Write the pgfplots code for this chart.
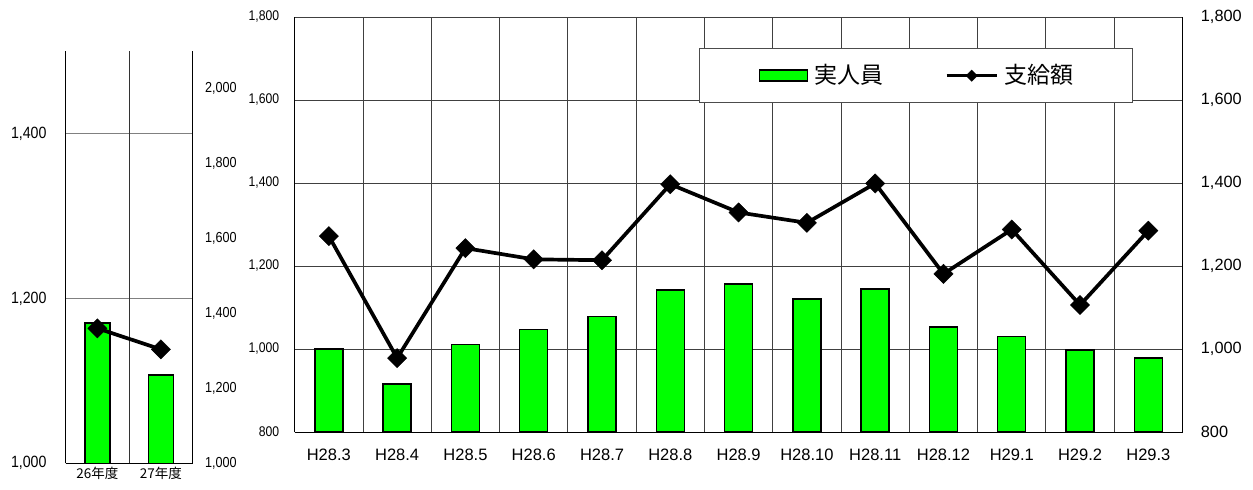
\documentclass[border=0pt]{standalone}
\usepackage{fontspec}
\setmainfont{Liberation Sans}
\newfontfamily\nar{Liberation Sans}[FakeStretch=0.87]
\newfontfamily\cjk{Noto Sans CJK JP}
\usepackage{pgfplots}
\pgfplotsset{compat=1.18}
\definecolor{bargreen}{RGB}{0,255,0}
\pgfplotsset{
  base/.style={
    scale only axis,
    anchor=south west,
    major tick length=0pt,
    /pgf/number format/assume math mode=true,
    /pgf/number format/1000 sep={,},
    every non boxed x axis/.append style={x axis line style=-},
    every non boxed y axis/.append style={y axis line style=-},
    axis line style={black, line width=1bp},
  },
  linestyle/.style={black, line width=3.7bp, mark=square*, mark size=6.8bp,
    mark options={rotate=45, solid, line width=0.4bp, fill=black}},
  barleg/.style={legend image code/.code={\draw[##1] (0bp,-5.5bp) rectangle (48bp,5.5bp);}},
  lineleg/.style={legend image code/.code={\draw[mark repeat=2, mark phase=2, ##1, line width=3.3bp, mark size=4bp]
     plot coordinates {(0bp,0bp) (25bp,0bp) (50bp,0bp)};}},
}
\begin{document}
\begin{tikzpicture}
\useasboundingbox (0bp,0bp) rectangle (1253bp,490bp);
% ---------- small annual chart: bars (left axis) ----------
\begin{axis}[base,
  at={(65.7bp,26.7bp)}, width=127bp, height=412.3bp,
  xmin=-0.5, xmax=1.5, ymin=1000, ymax=1500,
  axis x line=bottom, axis y line=left,
  xtick={0,1}, xticklabels={26年度,27年度},
  xticklabel style={font=\cjk\fontsize{13.5bp}{13.5bp}\selectfont, inner sep=0pt, yshift=-4bp},
  ytick={1000,1200,1400},
  yticklabel style={font=\nar\fontsize{16.3bp}{16.3bp}\selectfont, inner sep=0pt, xshift=-19bp},
  ymajorgrids, major grid style={black!50, line width=0.9bp},
  extra x ticks={0.5}, extra x tick labels={},
  extra x tick style={grid=major, major grid style={black!80, line width=0.9bp}},
  ybar, bar width=25bp,
]
\addplot[fill=bargreen, draw=black, line width=1.4bp] coordinates {(0,1170) (1,1107)};
\end{axis}
% ---------- small annual chart: line (right axis) ----------
\begin{axis}[base,
  at={(65.7bp,26.7bp)}, width=127bp, height=412.3bp,
  xmin=-0.5, xmax=1.5, ymin=1000, ymax=2100,
  axis x line=none, axis y line=right, xtick=\empty,
  ytick={1000,1200,...,2000},
  yticklabel style={font=\nar\fontsize{14.5bp}{14.5bp}\selectfont, inner sep=0pt, xshift=12.3bp},
]
\addplot[linestyle] coordinates {(0,1360) (1,1304)};
\end{axis}
% ---------- main monthly chart: bars (left axis) ----------
\begin{axis}[base,
  at={(294.7bp,58bp)}, width=887.8bp, height=415bp,
  xmin=-0.5, xmax=12.5, ymin=800, ymax=1800,
  axis x line=bottom, axis y line=left,
  xtick={0,...,12},
  xticklabels={H28.3,H28.4,H28.5,H28.6,H28.7,H28.8,H28.9,H28.10,H28.11,H28.12,H29.1,H29.2,H29.3},
  xticklabel style={font=\fontsize{16.5bp}{16.5bp}\selectfont, inner sep=0pt, yshift=-16.3bp},
  ytick={800,1000,...,1800},
  yticklabel style={font=\nar\fontsize{14bp}{14bp}\selectfont, inner sep=0pt, xshift=-15.4bp},
  ymajorgrids, major grid style={black!75, line width=0.9bp},
  extra x ticks={0.5,1.5,...,11.5}, extra x tick labels={},
  extra x tick style={grid=major},
  ybar, bar width=28bp,
]
\addplot[fill=bargreen, draw=black, line width=1.4bp] coordinates {
(0,1000) (1,916) (2,1011) (3,1047) (4,1078) (5,1142) (6,1157)
(7,1120) (8,1145) (9,1053) (10,1030) (11,998) (12,978)};
\end{axis}
% ---------- main monthly chart: line (right axis) + legend ----------
\begin{axis}[base,
  at={(294.7bp,58bp)}, width=887.8bp, height=415bp,
  xmin=-0.5, xmax=12.5, ymin=800, ymax=1800,
  axis x line=none, axis y line=right, xtick=\empty,
  ytick={800,1000,...,1800},
  yticklabel style={font=\fontsize{16.3bp}{16.3bp}\selectfont, inner sep=0pt, xshift=18.2bp},
  legend columns=2,
  legend cell align=left,
  legend style={at={(0.4557,0.9246)}, anchor=north west,
    draw=black!70, line width=0.8bp, fill=white,
    inner xsep=59bp, inner ysep=15.5bp,
    nodes={inner sep=0pt, text height=19bp, text depth=4bp},
    font=\cjk\fontsize{23bp}{23bp}\selectfont,
    /tikz/every odd column/.append style={column sep=6bp},
    /tikz/every even column/.append style={column sep=62bp}},
]
\addlegendimage{fill=bargreen, draw=black, line width=1.4bp, barleg}
\addlegendentry{実人員}
\addplot[linestyle, lineleg]
  coordinates {
(0,1272) (1,978) (2,1243) (3,1216) (4,1214) (5,1397) (6,1329)
(7,1304) (8,1399) (9,1181) (10,1288) (11,1106) (12,1285)};
\addlegendentry{支給額}
\end{axis}
\end{tikzpicture}
\end{document}
